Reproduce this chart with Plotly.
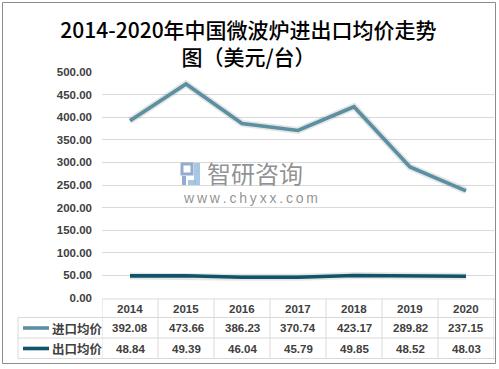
import plotly.graph_objects as go

years = ["2014", "2015", "2016", "2017", "2018", "2019", "2020"]
import_price = [392.08, 473.66, 386.23, 370.74, 423.17, 289.82, 237.15]
export_price = [48.84, 49.39, 46.04, 45.79, 49.85, 48.52, 48.03]
series_names = ["进口均价", "出口均价"]
title_text = "2014-2020年中国微波炉进出口均价走势<br>图（美元/台）"

W, H = 499, 369
PL, PR, PT, PB = 102, 494, 72, 298  # plot area pixels

def px(x):
    return (x - PL) / (PR - PL)

def py(y):
    return (PB - y) / (PB - PT)

c_imp = "#5B8FA2"
c_exp = "#0F5468"
txt = "#404040"
grid = "#D9D9D9"

fig = go.Figure()
for vals, col, name in [(import_price, c_imp, series_names[0]), (export_price, c_exp, series_names[1])]:
    fig.add_trace(go.Scatter(x=years, y=vals, mode="lines", name=name,
                             line=dict(color="rgba(0,0,0,0.10)", width=7), hoverinfo="skip",
                             showlegend=False))
    fig.add_trace(go.Scatter(x=years, y=vals, mode="lines", name=name,
                             line=dict(color=col, width=3.6), showlegend=False))

shapes = []
annos = []

# outer border
shapes.append(dict(type="rect", xref="paper", yref="paper", x0=px(2.5), x1=px(495.5),
                   y0=py(363.5), y1=py(2.5), line=dict(color="#8C8C8C", width=1),
                   fillcolor="rgba(0,0,0,0)", layer="below"))

# table lines
tl = dict(color=grid, width=1)
row_y = [299, 317.5, 338, 358.5]
shapes.append(dict(type="line", xref="paper", yref="paper", x0=px(102), x1=px(495), y0=py(299), y1=py(299), line=tl))
for ry in row_y[1:]:
    shapes.append(dict(type="line", xref="paper", yref="paper", x0=px(18), x1=px(495), y0=py(ry), y1=py(ry), line=tl))
shapes.append(dict(type="line", xref="paper", yref="paper", x0=px(18), x1=px(18), y0=py(317.5), y1=py(358.5), line=tl))
for i in range(len(years) + 1):
    xv = i - 0.5
    shapes.append(dict(type="line", xref="x", yref="paper", x0=xv, x1=xv, y0=py(299), y1=py(358.5), line=tl))

cell_font = dict(family="Liberation Sans", size=11.5, color=txt, weight="bold")
for i, yr in enumerate(years):
    annos.append(dict(x=i, y=py(308.5), xref="x", yref="paper", text=yr, showarrow=False,
                      font=cell_font, xanchor="center", yanchor="middle"))
    annos.append(dict(x=i, y=py(328), xref="x", yref="paper", text=f"{import_price[i]:.2f}", showarrow=False,
                      font=cell_font, xanchor="center", yanchor="middle"))
    annos.append(dict(x=i, y=py(348.5), xref="x", yref="paper", text=f"{export_price[i]:.2f}", showarrow=False,
                      font=cell_font, xanchor="center", yanchor="middle"))

# legend keys in table
for ry, col, name in [(328, c_imp, series_names[0]), (348.5, c_exp, series_names[1])]:
    shapes.append(dict(type="line", xref="paper", yref="paper", x0=px(23), x1=px(49), y0=py(ry), y1=py(ry),
                       line=dict(color=col, width=3.6)))
    annos.append(dict(x=px(50), y=py(ry), xref="paper", yref="paper", text=name, showarrow=False,
                      font=dict(family="Noto Sans CJK SC", size=12.5, color=txt, weight="bold"),
                      xanchor="left", yanchor="middle"))

# watermark
wm_col = "rgba(110,110,110,0.75)"
shapes.append(dict(type="rect", xref="paper", yref="paper", x0=px(182), x1=px(192), y0=py(174), y1=py(164),
                   line=dict(color="rgba(120,150,200,0.8)", width=3), fillcolor="rgba(0,0,0,0)"))
shapes.append(dict(type="rect", xref="paper", yref="paper", x0=px(182), x1=px(186), y0=py(185), y1=py(176),
                   line=dict(width=0), fillcolor="rgba(120,150,200,0.8)"))
shapes.append(dict(type="rect", xref="paper", yref="paper", x0=px(194), x1=px(200), y0=py(185), y1=py(163),
                   line=dict(width=0), fillcolor="rgba(150,190,225,0.85)"))
shapes.append(dict(type="rect", xref="paper", yref="paper", x0=px(188), x1=px(196), y0=py(185), y1=py(180),
                   line=dict(width=0), fillcolor="rgba(150,190,225,0.85)"))
annos.append(dict(x=px(205), y=py(172.5), xref="paper", yref="paper", text="智研咨询", showarrow=False,
                  font=dict(family="Noto Sans CJK SC", size=24, color=wm_col), xanchor="left", yanchor="middle"))
annos.append(dict(x=px(181), y=py(197.5), xref="paper", yref="paper",
                  text="\u2009".join("www.chyxx.com"), showarrow=False,
                  font=dict(family="Liberation Sans", size=14, color=wm_col), xanchor="left", yanchor="middle"))

fig.update_layout(
    width=W, height=H,
    margin=dict(l=PL, r=W - PR, t=PT, b=H - PB, pad=0),
    paper_bgcolor="white", plot_bgcolor="white",
    title=dict(text=title_text, x=248.5 / W, xref="container", xanchor="center", y=1 - 38 / H, yanchor="middle",
               font=dict(family="Noto Sans CJK SC", size=21, color="#000000", weight=500)),
    xaxis=dict(type="category", range=[-0.5, 6.5], showticklabels=False, showgrid=False,
               zeroline=False, showline=False, ticks=""),
    yaxis=dict(range=[0, 500], dtick=50, tickformat=".2f", showgrid=True, gridcolor=grid, gridwidth=1,
               zeroline=False, showline=False, ticks="", ticklabelstandoff=9,
               tickfont=dict(family="Liberation Sans", size=11.5, color=txt, weight="bold")),
    shapes=shapes, annotations=annos, showlegend=False,
)

fig.write_html("out.html", config={"displayModeBar": False},
               post_script="document.body.style.margin='0';")
